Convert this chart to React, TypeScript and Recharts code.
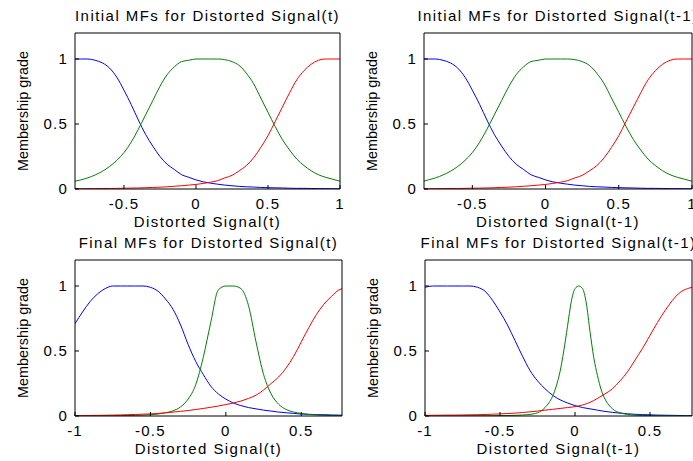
import React from "react";
import { LineChart, Line, XAxis, YAxis } from "recharts";

const FONT = '"Liberation Sans", Arial, Helvetica, sans-serif';
const BLUE = "#0000ff";
const GREEN = "#008000";
const RED = "#ff0000";

// Initial MFs, Distorted Signal(t)
const xInitT = [
  -0.84, -0.8, -0.75, -0.7, -0.65, -0.6, -0.55, -0.5, -0.45, -0.4, -0.35, -0.3, -0.25,
  -0.2, -0.15, -0.1, -0.05, 0, 0.05, 0.1, 0.15, 0.2, 0.25, 0.3, 0.35, 0.4, 0.45, 0.5,
  0.55, 0.6, 0.65, 0.7, 0.75, 0.8, 0.85, 0.9, 0.95, 1,
];
const blueInitT = [
  1, 1, 1, 0.99, 0.97, 0.93, 0.86, 0.76, 0.65, 0.53, 0.42, 0.33, 0.25, 0.19, 0.15, 0.11,
  0.09, 0.07, 0.055, 0.045, 0.037, 0.03, 0.025, 0.02, 0.017, 0.015, 0.012, 0.01, 0.009,
  0.008, 0.006, 0.005, 0.005, 0.004, 0.003, 0.003, 0.002, 0.002,
];
const greenInitT = [
  0.06, 0.07, 0.086, 0.108, 0.136, 0.173, 0.22, 0.28, 0.36, 0.46, 0.57, 0.68, 0.79, 0.88,
  0.94, 0.98, 0.99, 1, 1, 1, 1, 0.995, 0.98, 0.95, 0.89, 0.81, 0.7, 0.59, 0.48, 0.38, 0.3,
  0.23, 0.18, 0.14, 0.11, 0.09, 0.075, 0.06,
];
const redInitT = [
  0.002, 0.002, 0.003, 0.003, 0.004, 0.004, 0.005, 0.006, 0.007, 0.008, 0.01, 0.012, 0.014,
  0.017, 0.021, 0.025, 0.03, 0.035, 0.043, 0.052, 0.064, 0.085, 0.105, 0.14, 0.18, 0.24,
  0.32, 0.41, 0.52, 0.63, 0.74, 0.84, 0.91, 0.96, 0.99, 1, 1, 1,
];

// Initial MFs, Distorted Signal(t-1)
const xInitT1 = [
  -0.83, -0.8, -0.75, -0.7, -0.65, -0.6, -0.55, -0.5, -0.45, -0.4, -0.35, -0.3, -0.25,
  -0.2, -0.15, -0.1, -0.05, 0, 0.05, 0.1, 0.15, 0.2, 0.25, 0.3, 0.35, 0.4, 0.45, 0.5,
  0.55, 0.6, 0.65, 0.7, 0.75, 0.8, 0.85, 0.9, 0.95, 1,
];
const blueInitT1 = [
  1, 1, 1, 0.99, 0.97, 0.93, 0.86, 0.76, 0.65, 0.53, 0.42, 0.33, 0.25, 0.19, 0.15, 0.11,
  0.09, 0.07, 0.055, 0.045, 0.037, 0.03, 0.025, 0.02, 0.017, 0.015, 0.012, 0.01, 0.009,
  0.008, 0.006, 0.005, 0.005, 0.004, 0.003, 0.003, 0.002, 0.002,
];
const greenInitT1 = [
  0.06, 0.07, 0.086, 0.108, 0.136, 0.173, 0.22, 0.28, 0.36, 0.46, 0.57, 0.68, 0.79, 0.88,
  0.94, 0.98, 0.99, 1, 1, 1, 1, 0.995, 0.98, 0.95, 0.89, 0.81, 0.7, 0.59, 0.48, 0.38, 0.3,
  0.23, 0.18, 0.14, 0.11, 0.09, 0.075, 0.06,
];
const redInitT1 = [
  0.002, 0.002, 0.003, 0.003, 0.004, 0.004, 0.005, 0.006, 0.007, 0.008, 0.01, 0.012, 0.014,
  0.017, 0.021, 0.025, 0.03, 0.035, 0.043, 0.052, 0.064, 0.085, 0.105, 0.14, 0.18, 0.24,
  0.32, 0.41, 0.52, 0.63, 0.74, 0.84, 0.91, 0.96, 0.99, 1, 1, 1,
];

// Final MFs, Distorted Signal(t)
const xFinT = [
  -1, -0.95, -0.9, -0.85, -0.8, -0.75, -0.7, -0.65, -0.6, -0.55, -0.5, -0.45, -0.4, -0.35,
  -0.3, -0.25, -0.2, -0.15, -0.1, -0.05, 0, 0.05, 0.1, 0.15, 0.2, 0.25, 0.3, 0.35, 0.4,
  0.45, 0.5, 0.55, 0.6, 0.65, 0.7, 0.75, 0.77,
];
const blueFinT = [
  0.71, 0.8, 0.88, 0.94, 0.98, 1, 1, 1, 1, 1, 0.99, 0.96, 0.9, 0.82, 0.7, 0.55, 0.42, 0.32,
  0.23, 0.17, 0.13, 0.1, 0.08, 0.065, 0.055, 0.045, 0.038, 0.03, 0.025, 0.02, 0.015, 0.013,
  0.011, 0.01, 0.008, 0.007, 0.006,
];
const greenFinT = [
  0, 0, 0.001, 0.001, 0.002, 0.002, 0.003, 0.004, 0.005, 0.007, 0.01, 0.015, 0.025, 0.04,
  0.07, 0.13, 0.24, 0.45, 0.72, 0.97, 1, 1, 0.98, 0.85, 0.57, 0.32, 0.17, 0.09, 0.05, 0.03,
  0.02, 0.012, 0.008, 0.006, 0.004, 0.003, 0.003,
];
const redFinT = [
  0.003, 0.003, 0.004, 0.005, 0.006, 0.007, 0.008, 0.01, 0.012, 0.014, 0.016, 0.02, 0.024,
  0.03, 0.036, 0.042, 0.05, 0.058, 0.067, 0.077, 0.088, 0.1, 0.115, 0.135, 0.16, 0.2, 0.25,
  0.3, 0.37, 0.46, 0.57, 0.68, 0.78, 0.86, 0.92, 0.97, 0.98,
];

// Final MFs, Distorted Signal(t-1)
const xFinT1 = [
  -1, -0.95, -0.9, -0.85, -0.8, -0.75, -0.7, -0.65, -0.6, -0.55, -0.5, -0.45, -0.4, -0.35,
  -0.3, -0.25, -0.2, -0.15, -0.1, -0.05, 0, 0.05, 0.1, 0.15, 0.2, 0.25, 0.3, 0.35, 0.4,
  0.45, 0.5, 0.55, 0.6, 0.65, 0.7, 0.75, 0.78,
];
const blueFinT1 = [
  0.99, 1, 1, 1, 1, 1, 1, 0.99, 0.96, 0.89, 0.8, 0.7, 0.58, 0.46, 0.35, 0.27, 0.21, 0.16,
  0.125, 0.1, 0.08, 0.065, 0.055, 0.045, 0.035, 0.028, 0.022, 0.017, 0.013, 0.011, 0.009,
  0.007, 0.006, 0.005, 0.004, 0.003, 0.003,
];
const redFinT1 = [
  0.005, 0.006, 0.006, 0.007, 0.007, 0.008, 0.009, 0.01, 0.012, 0.014, 0.016, 0.019, 0.022,
  0.027, 0.032, 0.038, 0.045, 0.051, 0.058, 0.065, 0.072, 0.085, 0.105, 0.135, 0.17, 0.21,
  0.27, 0.34, 0.43, 0.52, 0.62, 0.72, 0.81, 0.89, 0.95, 0.98, 0.99,
];
const xGreenFinT1 = [
  -1, -0.8, -0.6, -0.5, -0.4, -0.35, -0.3, -0.275, -0.25, -0.225, -0.2, -0.175, -0.15,
  -0.125, -0.1, -0.075, -0.05, -0.025, 0, 0.025, 0.05, 0.075, 0.1, 0.125, 0.15, 0.175, 0.2,
  0.225, 0.25, 0.275, 0.3, 0.35, 0.4, 0.5, 0.6, 0.78,
];
const greenFinT1 = [
  0, 0.001, 0.002, 0.003, 0.005, 0.008, 0.012, 0.017, 0.025, 0.04, 0.065, 0.1, 0.15, 0.23,
  0.34, 0.5, 0.69, 0.88, 0.98, 1, 0.98, 0.87, 0.65, 0.45, 0.31, 0.2, 0.13, 0.085, 0.055,
  0.035, 0.025, 0.012, 0.007, 0.003, 0.001, 0,
];

const initTicks = [-0.5, 0, 0.5, 1];
const finalTicks = [-1, -0.5, 0, 0.5];
const yTicks = [0, 0.5, 1];

const zip = (xs: number[], ys: number[]) => xs.map((x, i) => ({ x, y: ys[i] }));

type Curve = { key: string; color: string; points: { x: number; y: number }[] };

const PLOT_H = 156;
const AXIS_W = 75;
const TOP = 33;
const BOTTOM = 45;
const RIGHT = 14;

const txt = { fill: "#000", fontSize: 15, fontFamily: FONT, letterSpacing: 1.2 };
const labelTxt = { ...txt, letterSpacing: 1.45 };

function Panel(props: {
  left: number;
  top: number;
  plotW: number;
  title: string;
  xLabel: string;
  domain: [number, number];
  xTicks: number[];
  curves: Curve[];
}) {
  const { left, top, plotW, title, xLabel, domain, xTicks, curves } = props;

  const titleLabel = ({ viewBox }: any) => (
    <text
      x={viewBox.x + viewBox.width / 2}
      y={viewBox.y + viewBox.height - 12}
      textAnchor="middle"
      {...labelTxt}
    >
      {title}
    </text>
  );
  const xAxisLabel = ({ viewBox }: any) => (
    <text x={viewBox.x + viewBox.width / 2} y={viewBox.y + 38} textAnchor="middle" {...labelTxt}>
      {xLabel}
    </text>
  );
  const yAxisLabel = ({ viewBox }: any) => {
    const cx = viewBox.x + 28;
    const cy = viewBox.y + viewBox.height / 2;
    return (
      <text
        x={cx}
        y={cy}
        textAnchor="middle"
        transform={`rotate(-90, ${cx}, ${cy})`}
        fill="#000"
        fontSize={14.4}
        fontFamily={FONT}
      >
        Membership grade
      </text>
    );
  };

  return (
    <div style={{ position: "absolute", left: left - AXIS_W, top: top - TOP }}>
      <LineChart
        width={AXIS_W + plotW + RIGHT}
        height={TOP + PLOT_H + BOTTOM}
        margin={{ top: TOP - 1, right: RIGHT - 1, bottom: 0, left: 0 }}
      >
        <XAxis
          dataKey="x"
          type="number"
          domain={domain}
          ticks={xTicks}
          interval={0}
          allowDataOverflow
          height={BOTTOM}
          stroke="#000"
          tickSize={-4}
          tickMargin={13}
          tick={txt}
          label={xAxisLabel}
        />
        {/* mirrored box edges with inward ticks, MATLAB style */}
        <XAxis
          xAxisId="top"
          orientation="top"
          dataKey="x"
          type="number"
          domain={domain}
          ticks={xTicks}
          interval={0}
          allowDataOverflow
          height={1}
          stroke="#000"
          tickSize={-4}
          tick={false}
          label={titleLabel}
        />
        <YAxis
          type="number"
          domain={[0, 1.2]}
          ticks={yTicks}
          interval={0}
          allowDataOverflow
          width={AXIS_W}
          stroke="#000"
          tickSize={-4}
          tickMargin={11}
          tick={txt}
          label={yAxisLabel}
        />
        <YAxis
          yAxisId="right"
          orientation="right"
          type="number"
          domain={[0, 1.2]}
          ticks={yTicks}
          interval={0}
          allowDataOverflow
          width={1}
          stroke="#000"
          tickSize={-4}
          tick={false}
        />
        {curves.map((c) => (
          <Line
            key={c.key}
            data={c.points}
            dataKey="y"
            type="monotone"
            stroke={c.color}
            strokeWidth={1}
            dot={false}
            activeDot={false}
            isAnimationActive={false}
          />
        ))}
      </LineChart>
    </div>
  );
}

export default function App() {
  return (
    <div
      style={{
        position: "absolute",
        left: 0,
        top: 0,
        width: 693,
        height: 461,
        overflow: "hidden",
        background: "#fff",
      }}
    >
      <Panel
        left={75}
        top={33}
        plotW={265}
        title="Initial MFs for Distorted Signal(t)"
        xLabel="Distorted Signal(t)"
        domain={[-0.84, 1]}
        xTicks={initTicks}
        curves={[
          { key: "b", color: BLUE, points: zip(xInitT, blueInitT) },
          { key: "g", color: GREEN, points: zip(xInitT, greenInitT) },
          { key: "r", color: RED, points: zip(xInitT, redInitT) },
        ]}
      />
      <Panel
        left={424}
        top={33}
        plotW={268}
        title="Initial MFs for Distorted Signal(t-1)"
        xLabel="Distorted Signal(t-1)"
        domain={[-0.83, 1]}
        xTicks={initTicks}
        curves={[
          { key: "b", color: BLUE, points: zip(xInitT1, blueInitT1) },
          { key: "g", color: GREEN, points: zip(xInitT1, greenInitT1) },
          { key: "r", color: RED, points: zip(xInitT1, redInitT1) },
        ]}
      />
      <Panel
        left={75}
        top={260}
        plotW={267}
        title="Final MFs for Distorted Signal(t)"
        xLabel="Distorted Signal(t)"
        domain={[-1, 0.77]}
        xTicks={finalTicks}
        curves={[
          { key: "b", color: BLUE, points: zip(xFinT, blueFinT) },
          { key: "g", color: GREEN, points: zip(xFinT, greenFinT) },
          { key: "r", color: RED, points: zip(xFinT, redFinT) },
        ]}
      />
      <Panel
        left={425}
        top={260}
        plotW={267}
        title="Final MFs for Distorted Signal(t-1)"
        xLabel="Distorted Signal(t-1)"
        domain={[-1, 0.78]}
        xTicks={finalTicks}
        curves={[
          { key: "b", color: BLUE, points: zip(xFinT1, blueFinT1) },
          { key: "g", color: GREEN, points: zip(xGreenFinT1, greenFinT1) },
          { key: "r", color: RED, points: zip(xFinT1, redFinT1) },
        ]}
      />
    </div>
  );
}
